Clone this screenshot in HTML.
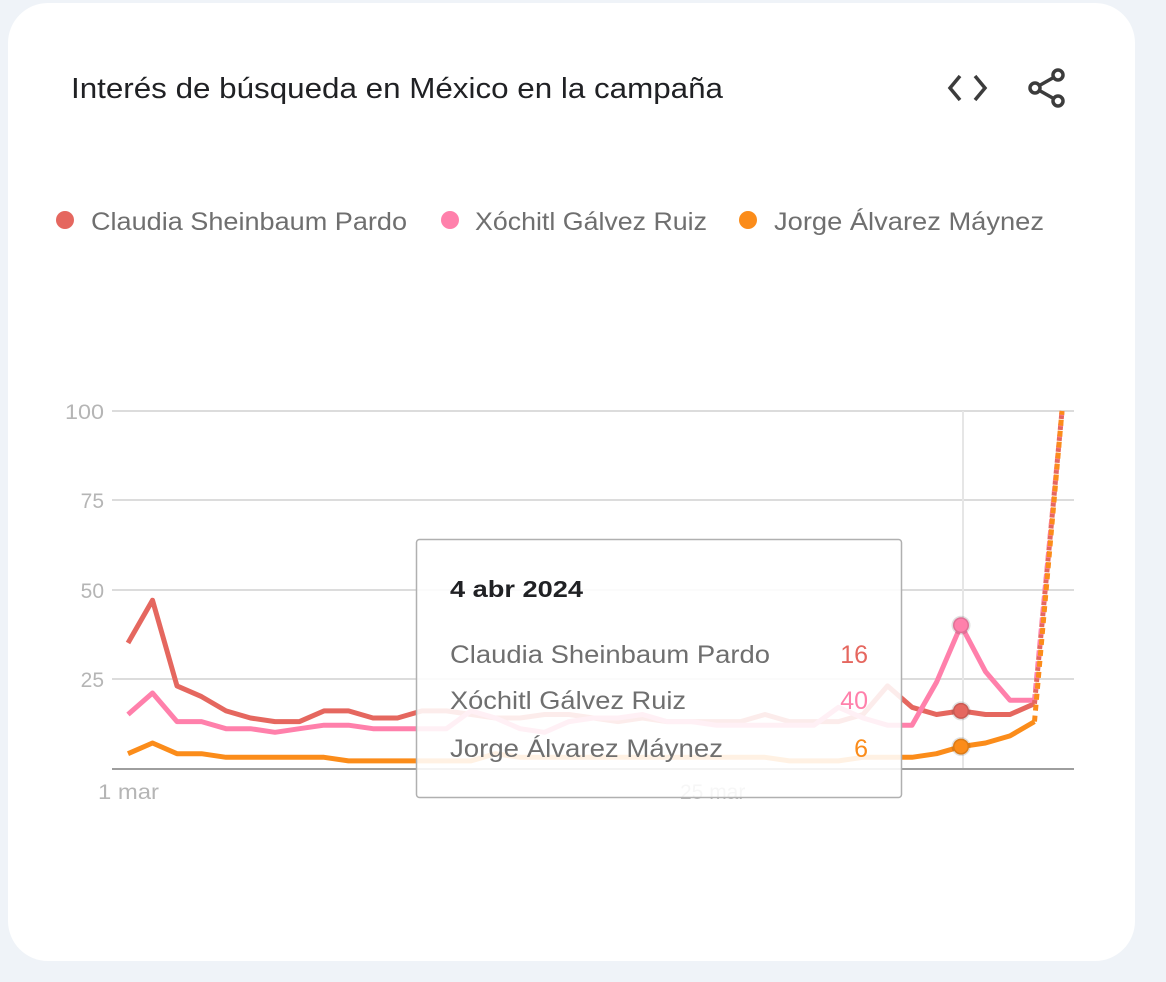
<!DOCTYPE html>
<html><head><meta charset="utf-8">
<style>
html,body{margin:0;padding:0;background:#eff3f8;width:1166px;height:982px;overflow:hidden;font-family:"Liberation Sans",Arial,sans-serif}
.card{position:absolute;left:8px;top:3px;width:1127px;height:958px;background:#fff;border-radius:40px}
</style></head><body>
<div class="card"></div>
<svg id="s" width="1166" height="982" style="position:absolute;left:0;top:0" xmlns="http://www.w3.org/2000/svg">
<text x="71" y="98" font-size="29" fill="#202124" textLength="652" lengthAdjust="spacingAndGlyphs">Interés de búsqueda en México en la campaña</text>
<polyline points="960,76 950,88 960,100" fill="none" stroke="#3c3c3c" stroke-width="3.5"/>
<polyline points="975,76 985,88 975,100" fill="none" stroke="#3c3c3c" stroke-width="3.5"/>
<g stroke="#3c3c3c" stroke-width="3.5" fill="#fff">
<line x1="1035" y1="88" x2="1058" y2="75"/><line x1="1035" y1="88" x2="1058" y2="101"/>
<circle cx="1035" cy="88" r="5"/><circle cx="1058" cy="75" r="5"/><circle cx="1058" cy="101" r="5"/></g>
<g font-size="25" fill="#6f6f6f" lengthAdjust="spacingAndGlyphs">
<circle cx="65" cy="220" r="9" fill="#e5675f"/><text x="91" y="230" textLength="316" lengthAdjust="spacingAndGlyphs">Claudia Sheinbaum Pardo</text>
<circle cx="450" cy="220" r="9" fill="#ff80ab"/><text x="475" y="230" textLength="232" lengthAdjust="spacingAndGlyphs">Xóchitl Gálvez Ruiz</text>
<circle cx="748" cy="220" r="9" fill="#fb8c1a"/><text x="774" y="230" textLength="270" lengthAdjust="spacingAndGlyphs">Jorge Álvarez Máynez</text>
</g>
<g stroke="#dcdcdc" stroke-width="2">
<line x1="112" y1="411" x2="1074" y2="411"/><line x1="112" y1="500" x2="1074" y2="500"/>
<line x1="112" y1="590" x2="1074" y2="590"/><line x1="112" y1="679" x2="1074" y2="679"/>
<line x1="963" y1="411" x2="963" y2="768" stroke="#e6e6e6"/>
</g>
<line x1="112" y1="769" x2="1074" y2="769" stroke="#9e9e9e" stroke-width="2"/>
<g font-size="21" fill="#b5b5b5" text-anchor="end">
<text x="104" y="419" textLength="39" lengthAdjust="spacingAndGlyphs">100</text><text x="104" y="508">75</text><text x="104" y="598">50</text><text x="104" y="687">25</text>
</g>
<text x="98" y="799" font-size="21" fill="#b5b5b5" textLength="61" lengthAdjust="spacingAndGlyphs">1 mar</text>
<text x="680" y="799" font-size="21" fill="#b5b5b5">25 mar</text>
<g id="lines"></g>
<rect x="416.5" y="539.5" width="485" height="258" rx="3" fill="rgba(255,255,255,0.88)" stroke="#b0b0b0" stroke-width="1.5"/>
<text x="450" y="597" font-size="23" font-weight="bold" fill="#202124" textLength="133" lengthAdjust="spacingAndGlyphs">4 abr 2024</text>
<g font-size="25" fill="#6f6f6f">
<text x="450" y="663" textLength="320" lengthAdjust="spacingAndGlyphs">Claudia Sheinbaum Pardo</text>
<text x="450" y="709" textLength="236" lengthAdjust="spacingAndGlyphs">Xóchitl Gálvez Ruiz</text>
<text x="450" y="757" textLength="273" lengthAdjust="spacingAndGlyphs">Jorge Álvarez Máynez</text>
</g>
<g font-size="25" text-anchor="end">
<text x="868" y="663" fill="#e5675f">16</text>
<text x="868" y="709" fill="#ff80ab">40</text>
<text x="868" y="757" fill="#fb8c1a">6</text>
</g>
<g id="clip"></g>
</svg>
<script>
var X=function(i){return 128+i*24.5}, Y=function(v){return 768-v*3.57};
var red=[35,47,23,20,16,14,13,13,16,16,14,14,16,16,15,14,14,15,15,14,13,14,13,13,13,13,15,13,13,13,15,23,17,15,16,15,15,18];
var pink=[15,21,13,13,11,11,10,11,12,12,11,11,11,16,14,11,10,13,14,14,15,13,13,12,12,12,12,12,17,14,12,12,12,24,40,27,19,19];
var org=[4,7,4,4,3,3,3,3,3,2,2,2,2,2,2,4,3,3,3,3,3,3,3,3,3,3,3,2,2,2,3,3,3,4,4,6,7,9,13];
pink=[15,21,13,13,11,11,10,11,12,12,11,11,11,11,16,14,11,10,13,14,14,15,13,13,12,12,12,12,12,17,14,12,12,24,40,27,19,19];
org=[4,7,4,4,3,3,3,3,3,2,2,2,2,2,2,4,3,3,3,3,3,3,3,3,3,3,3,2,2,2,3,3,3,4,6,7,9,13];
function pts(a){return a.map(function(v,i){return X(i).toFixed(1)+","+Y(v).toFixed(1)}).join(" ")}
var NS="http://www.w3.org/2000/svg",g=document.getElementById("lines");
function pl(a,c,extra){var p=document.createElementNS(NS,"polyline");p.setAttribute("points",a);p.setAttribute("fill","none");p.setAttribute("stroke",c);p.setAttribute("stroke-width","5");p.setAttribute("stroke-linejoin","round");if(extra)p.setAttribute("stroke-dasharray",extra);g.appendChild(p);}
pl(pts(red),"#e5675f");pl(pts(pink),"#ff80ab");pl(pts(org),"#fb8c1a");
var lx=X(37);
pl(lx+","+Y(red[37])+" 1062,411","#e5675f","6,5");
pl(lx+","+Y(pink[37])+" 1062,411","#ff80ab","6,5");
pl(lx+","+Y(org[37])+" 1062,411","#fb8c1a","6,5");
function dot(v,c){var ci=document.createElementNS(NS,"circle");ci.setAttribute("cx",X(34));ci.setAttribute("cy",Y(v));ci.setAttribute("r","8");ci.setAttribute("fill",c);ci.setAttribute("stroke","rgba(0,0,0,0.12)");ci.setAttribute("stroke-width","3");document.getElementById("clip").appendChild(ci);}
dot(40,"#ff80ab");dot(16,"#e5675f");dot(6,"#fb8c1a");
</script>
</body></html>
